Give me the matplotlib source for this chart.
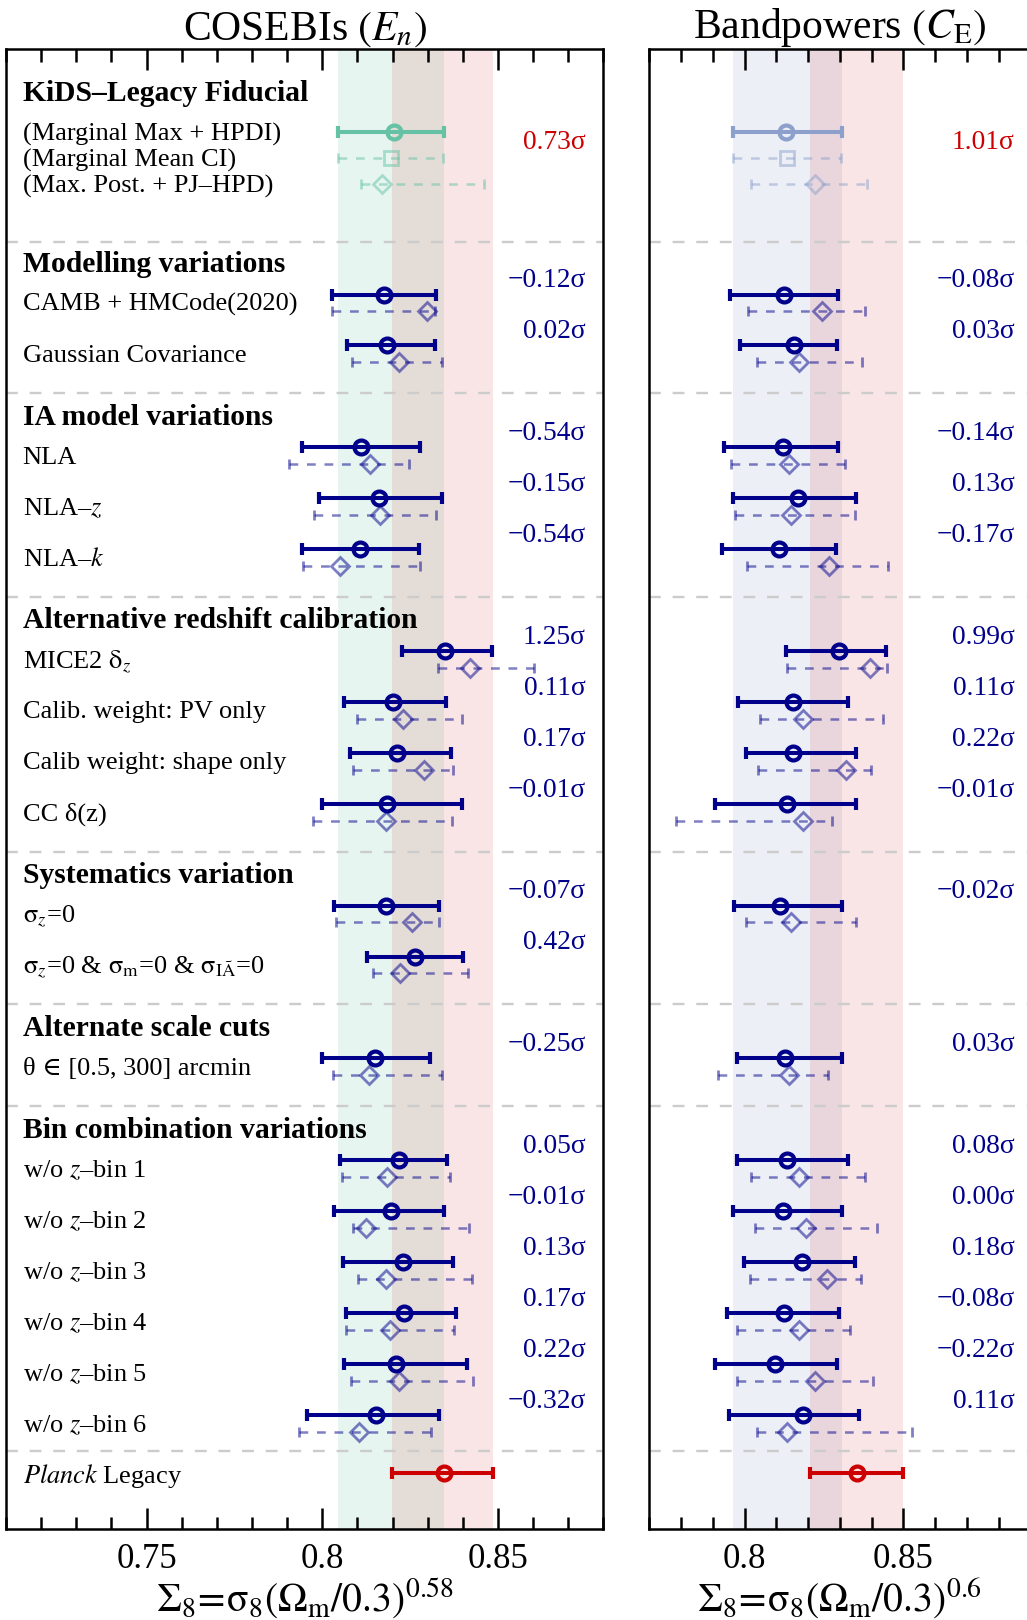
import numpy as np
import matplotlib
matplotlib.use("Agg")
import matplotlib.pyplot as plt
from matplotlib.ticker import MultipleLocator, FixedLocator, FixedFormatter
from matplotlib.transforms import blended_transform_factory

plt.rcParams['font.family'] = ['Liberation Serif', 'DejaVu Serif']
plt.rcParams['mathtext.fontset'] = 'stix'

# ---------------------------------------------------------------- labels
group_titles = ["Modelling variations", "IA model variations",
                "Alternative redshift calibration", "Systematics variation",
                "Alternate scale cuts", "Bin combination variations"]
group_rows = [
    ["CAMB + HMCode(2020)", "Gaussian Covariance"],
    ["NLA", "NLA–$z$", "NLA–$k$"],
    [r"MICE2 $\mathrm{\delta}_z$", "Calib. weight: PV only", "Calib weight: shape only", "CC δ(z)"],
    [r"$\mathrm{\sigma}_z$=0",
     r"$\mathrm{\sigma}_z$=0 & $\mathrm{\sigma}_{\rm m}$=0 & $\mathrm{\sigma}_{\rm IÃ}$=0"],
    ["θ ∈ [0.5, 300] arcmin"],
    ["w/o $z$–bin 1", "w/o $z$–bin 2", "w/o $z$–bin 3",
     "w/o $z$–bin 4", "w/o $z$–bin 5", "w/o $z$–bin 6"],
]
fid_title = "KiDS–Legacy Fiducial"
fid_labels = ["(Marginal Max + HPDI)", "(Marginal Mean CI)", "(Max. Post. + PJ–HPD)"]
planck_label = r"$Planck$ Legacy"

# ---------------------------------------------------------------- COSEBIs
cos_fid = [0.8205, 0.8196, 0.8171]
cos_fid_lo = [0.8046, 0.8046, 0.8110]
cos_fid_hi = [0.8346, 0.8344, 0.8459]
cos_fid_sigma = 0.73
cos_planck = [0.8347, 0.8198, 0.8485]

cos_best = [0.8175, 0.8183, 0.8110, 0.8160, 0.8106, 0.8350, 0.8202, 0.8212, 0.8183,
            0.8181, 0.8264, 0.8151, 0.8219, 0.8195, 0.8229, 0.8232, 0.8209, 0.8153]
cos_lo = [0.8027, 0.8069, 0.7942, 0.7991, 0.7942, 0.8227, 0.8062, 0.8080, 0.8000,
          0.8033, 0.8128, 0.8000, 0.8050, 0.8032, 0.8058, 0.8067, 0.8062, 0.7957]
cos_hi = [0.8323, 0.8322, 0.8277, 0.8340, 0.8275, 0.8484, 0.8351, 0.8367, 0.8397,
          0.8331, 0.8400, 0.8307, 0.8356, 0.8345, 0.8373, 0.8380, 0.8412, 0.8331]
cos_mp = [0.8298, 0.8217, 0.8137, 0.8165, 0.8051, 0.8421, 0.8231, 0.8288, 0.8180,
          0.8255, 0.8222, 0.8132, 0.8183, 0.8125, 0.8180, 0.8192, 0.8218, 0.8105]
cos_mp_lo = [0.8028, 0.8084, 0.7905, 0.7976, 0.7946, 0.8330, 0.8098, 0.8088, 0.7974,
             0.8040, 0.8143, 0.8031, 0.8057, 0.8086, 0.8101, 0.8068, 0.8081, 0.7935]
cos_mp_hi = [0.8321, 0.8340, 0.8247, 0.8323, 0.8278, 0.8601, 0.8397, 0.8373, 0.8368,
             0.8333, 0.8414, 0.8342, 0.8362, 0.8418, 0.8426, 0.8376, 0.8430, 0.8309]
cos_sigma = [-0.12, 0.02, -0.54, -0.15, -0.54, 1.25, 0.11, 0.17, -0.01,
             -0.07, 0.42, -0.25, 0.05, -0.01, 0.13, 0.17, 0.22, -0.32]

# ---------------------------------------------------------------- Bandpowers
bp_fid = [0.8131, 0.8133, 0.8220]
bp_fid_lo = [0.7965, 0.7962, 0.8020]
bp_fid_hi = [0.8306, 0.8303, 0.8385]
bp_fid_sigma = 1.01
bp_planck = [0.8355, 0.8207, 0.8500]

nan = np.nan
bp_best = [0.8123, 0.8155, 0.8121, 0.8168, 0.8107, 0.8296, 0.8152, 0.8152, 0.8133,
           0.8112, nan, 0.8127, 0.8132, 0.8120, 0.8180, 0.8123, 0.8095, 0.8183]
bp_lo = [0.7953, 0.7985, 0.7935, 0.7965, 0.7928, 0.8130, 0.7980, 0.8004, 0.7908,
         0.7968, nan, 0.7976, 0.7977, 0.7965, 0.7997, 0.7944, 0.7907, 0.7950]
bp_hi = [0.8293, 0.8291, 0.8294, 0.8350, 0.8287, 0.8446, 0.8324, 0.8352, 0.8349,
         0.8308, nan, 0.8308, 0.8325, 0.8307, 0.8347, 0.8297, 0.8291, 0.8360]
bp_mp = [0.8245, 0.8172, 0.8140, 0.8147, 0.8267, 0.8394, 0.8185, 0.8320, 0.8185,
         0.8147, nan, 0.8141, 0.8170, 0.8192, 0.8258, 0.8172, 0.8220, 0.8132]
bp_mp_lo = [0.8010, 0.8040, 0.7957, 0.7969, 0.8007, 0.8135, 0.8047, 0.8042, 0.7785,
            0.8004, nan, 0.7916, 0.8020, 0.8032, 0.8018, 0.7977, 0.7977, 0.8038]
bp_mp_hi = [0.8378, 0.8370, 0.8315, 0.8348, 0.8450, 0.8447, 0.8435, 0.8397, 0.8275,
            0.8349, nan, 0.8262, 0.8380, 0.8417, 0.8367, 0.8333, 0.8403, 0.8526]
bp_sigma = [-0.08, 0.03, -0.14, 0.13, -0.17, 0.99, 0.11, 0.22, -0.01,
            -0.02, nan, 0.03, 0.08, 0.00, 0.18, -0.08, -0.22, 0.11]

# ---------------------------------------------------------------- styling
NAVY = "#00008b"
RED = "#cc0000"
GREEN = "#66c2a5"
BLUE = "#8da0cb"
SEP = "#cccccc"

# ---------------------------------------------------------------- vertical layout
y_fid_title = 0.89
y_fid = [1.64, 2.15, 2.66]
sep_y = [3.79]
header_y, row_y = [], []
h = 4.24
for rows in group_rows:
    header_y.append(h)
    row_y.extend(h + 0.59 + np.arange(len(rows)))
    h += len(rows) + 1
    sep_y.append(h - 0.47)
sep_y[-1] = row_y[-1] + 0.71
y_planck = row_y[-1] + 1.14
y_bottom = 29.07
DY = 0.33        # offset of the max-posterior point below each row

fig = plt.figure(figsize=(10.27, 16.2), dpi=100)
axL = fig.add_axes([0.0058, 0.0562, 0.5818, 0.9138])
axR = fig.add_axes([0.6322, 0.0562, 0.3713, 0.9138])


def fmt_sigma(v):
    s = f"{abs(v):.2f}σ"
    return ("−" + s) if v < 0 else s


def draw_bar(ax, x, lo, hi, y, color, solid=True, marker='o', alpha=1.0):
    if np.isnan(x):
        return
    xerr = [[x - lo], [hi - x]]
    if solid:
        ax.errorbar([x], [y], xerr=xerr, fmt=marker, color=color, mfc='none',
                    mec=color, ms=10, mew=3.0, elinewidth=2.9, capsize=4.5,
                    capthick=2.9, alpha=alpha, zorder=5)
    else:
        eb = ax.errorbar([x], [y], xerr=xerr, fmt=marker, color=color, mfc='none',
                         mec=color, ms=8.8 if marker == 'D' else 9.5, mew=2.0,
                         elinewidth=1.8, capsize=3.5, capthick=1.6, alpha=alpha,
                         zorder=4)
        eb[2][0].set_linestyle((0, (3.5, 3.5)))


def panel(ax, fid, fid_lo, fid_hi, fid_sigma, fid_col, planck,
          best, lo, hi, mp, mp_lo, mp_hi, sig, xlim, ticks, ticklabels,
          sig_x, title, xlabel):
    # KiDS and Planck constraint bands
    ax.axvspan(fid_lo[0], fid_hi[0], color=fid_col, alpha=0.16, lw=0, zorder=0)
    ax.axvspan(planck[1], planck[2], color=RED, alpha=0.10, lw=0, zorder=0)
    for s in sep_y:
        ax.axhline(s, color=SEP, lw=1.7, ls=(0, (5, 5)), zorder=1)

    draw_bar(ax, fid[0], fid_lo[0], fid_hi[0], y_fid[0], fid_col, solid=True)
    draw_bar(ax, fid[1], fid_lo[1], fid_hi[1], y_fid[1], fid_col, solid=False,
             marker='s', alpha=0.5)
    draw_bar(ax, fid[2], fid_lo[2], fid_hi[2], y_fid[2], fid_col, solid=False,
             marker='D', alpha=0.5)
    for i, y in enumerate(row_y):
        draw_bar(ax, best[i], lo[i], hi[i], y, NAVY, solid=True)
        draw_bar(ax, mp[i], mp_lo[i], mp_hi[i], y + DY, NAVY, solid=False,
                 marker='D', alpha=0.5)
    draw_bar(ax, planck[0], planck[1], planck[2], y_planck, RED, solid=True)

    tr = blended_transform_factory(ax.transAxes, ax.transData)
    ax.text(sig_x, y_fid[0] + 0.21, fmt_sigma(fid_sigma), transform=tr,
            ha='right', va='center', color=RED, fontsize=19.8)
    for i, y in enumerate(row_y):
        if not np.isnan(sig[i]):
            ax.text(sig_x, y - 0.27, fmt_sigma(sig[i]), transform=tr,
                    ha='right', va='center', color=NAVY, fontsize=19.8)

    ax.set_xlim(*xlim)
    ax.set_ylim(y_bottom, 0)
    ax.set_yticks([])
    ax.xaxis.set_major_locator(FixedLocator(ticks))
    ax.xaxis.set_major_formatter(FixedFormatter(ticklabels))
    ax.xaxis.set_minor_locator(MultipleLocator(0.01))
    ax.tick_params(axis='x', which='both', direction='in', top=True, bottom=True,
                   labelsize=25, pad=10)
    ax.tick_params(axis='x', which='major', length=15, width=1.8)
    ax.tick_params(axis='x', which='minor', length=9, width=1.8)
    for sp in ax.spines.values():
        sp.set_linewidth(1.8)
    ax.set_title(title, fontsize=30, pad=4)
    ax.set_xlabel(xlabel, fontsize=28.5, labelpad=0)


panel(axL, cos_fid, cos_fid_lo, cos_fid_hi, cos_fid_sigma, GREEN, cos_planck,
      cos_best, cos_lo, cos_hi, cos_mp, cos_mp_lo, cos_mp_hi, cos_sigma,
      (0.71, 0.88), [0.75, 0.80, 0.85], ["0.75", "0.8", "0.85"], 0.970,
      r"COSEBIs $\left(E_n\right)$",
      r"$\Sigma_8\!=\!\mathrm{\sigma}_8\left(\Omega_{\rm m}/0.3\right)^{0.58}$")
panel(axR, bp_fid, bp_fid_lo, bp_fid_hi, bp_fid_sigma, BLUE, bp_planck,
      bp_best, bp_lo, bp_hi, bp_mp, bp_mp_lo, bp_mp_hi, bp_sigma,
      (0.77, 0.89), [0.80, 0.85], ["0.8", "0.85"], 0.958,
      r"Bandpowers $\left(C_{\rm E}\right)$",
      r"$\Sigma_8\!=\!\mathrm{\sigma}_8\left(\Omega_{\rm m}/0.3\right)^{0.6}$")

# Row labels on the left panel
trL = blended_transform_factory(axL.transAxes, axL.transData)
LX = 0.028
axL.text(LX, y_fid_title, fid_title, transform=trL, fontsize=21.3,
         fontweight='bold', va='center')
for lab, y in zip(fid_labels, y_fid):
    axL.text(LX, y + 0.04, lab, transform=trL, fontsize=19, va='center')
k = 0
for title, rows, hy in zip(group_titles, group_rows, header_y):
    axL.text(LX, hy, title, transform=trL, fontsize=21.3, fontweight='bold',
             va='center')
    for lab in rows:
        axL.text(LX, row_y[k] + 0.2, lab, transform=trL, fontsize=19, va='center')
        k += 1
axL.text(LX, y_planck + 0.06, planck_label, transform=trL, fontsize=19,
         va='center')

fig.savefig("out.png", dpi=100)
